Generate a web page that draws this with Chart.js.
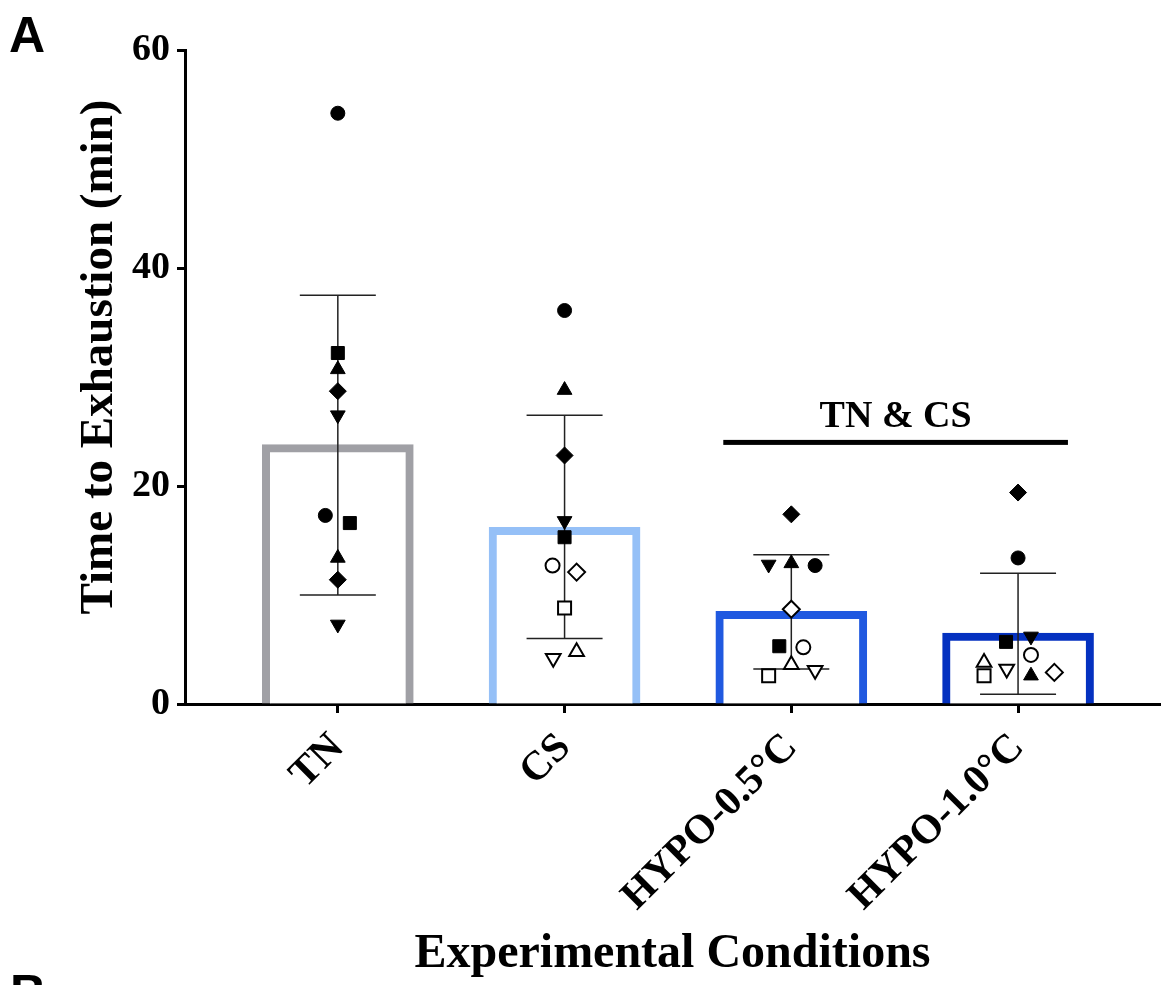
<!DOCTYPE html>
<html>
<head>
<meta charset="utf-8">
<script src="https://cdn.jsdelivr.net/npm/chart.js@4/dist/chart.umd.min.js"></script>
<style>
  body { margin: 0; background: #fff; }
  canvas { display: block; }
</style>
</head>
<body>
<canvas id="chart" width="1163" height="985"></canvas>
<script>
// group names and summary stats (mean, SD ends)
const categories = ['TN', 'CS', 'HYPO-0.5\u00B0C', 'HYPO-1.0\u00B0C']
const means = [23.8, 16.2, 8.5, 6.5]
const sdHigh = [37.5, 26.5, 13.7, 12.0]
const sdLow = [10.0, 6.0, 3.2, 0.9]
const barColors = ['#a0a0a5', '#95c0f7', '#2059e0', '#0431c0']
const yTicks = [0, 20, 40, 60]

// individual subjects per group: value, marker, sideways jitter (in category units)
const tnValues = [54.2, 32.2, 30.7, 28.7, 26.5, 17.3, 16.6, 13.4, 11.4, 7.3]
const tnMarkers = ['circle', 'square', 'triangle', 'diamond', 'down', 'circle', 'square', 'triangle', 'diamond', 'down']
const tnJitter = [0, 0, 0, 0, 0, -0.055, 0.053, 0, 0, 0]

const csValues = [36.1, 28.8, 22.8, 16.8, 15.3, 12.7, 12.1, 8.8, 4.2, 4.8]
const csMarkers = ['circle', 'triangle', 'diamond', 'down', 'square', 'oCircle', 'oDiamond', 'oSquare', 'oDown', 'oTriangle']
const csJitter = [0, 0, 0, 0, 0, -0.053, 0.053, 0, -0.05, 0.053]

const h05Values = [17.4, 12.8, 12.9, 12.7, 8.7, 5.3, 5.2, 3.6, 2.6, 3.1]
const h05Markers = ['diamond', 'down', 'triangle', 'circle', 'oDiamond', 'square', 'oCircle', 'oTriangle', 'oSquare', 'oDown']
const h05Jitter = [0, -0.1, 0, 0.105, 0, -0.053, 0.053, 0, -0.1, 0.105]

const h10Values = [19.4, 13.4, 5.7, 6.2, 4.5, 3.8, 2.6, 3.2, 2.6, 2.9]
const h10Markers = ['diamond', 'circle', 'square', 'down', 'oCircle', 'oTriangle', 'oSquare', 'oDown', 'triangle', 'oDiamond']
const h10Jitter = [0, 0, -0.053, 0.057, 0.057, -0.15, -0.15, -0.05, 0.057, 0.16]

// significance bar over the two hypothermia groups
const sigFrom = 2.70
const sigTo = 4.22
const sigValue = 24.0
const sigLabel = 'TN & CS'

const groups = [
    [tnValues, tnMarkers, tnJitter],
    [csValues, csMarkers, csJitter],
    [h05Values, h05Markers, h05Jitter],
    [h10Values, h10Markers, h10Jitter]
]

var points = []
groups.forEach(function(g, i){
    g[0].forEach(function(v, j){
        points.push({x: i + 1 + g[2][j], y: v, m: g[1][j]})
    })
})

const styleOf = {circle: 'circle', square: 'rect', triangle: 'triangle', diamond: 'rectRot', down: 'triangle'}
const radiusOf = {circle: 7, square: 9.2, triangle: 8.5, diamond: 8.5, down: 8.5}

function baseMarker(m){ return m[0] == 'o' ? m.substr(1).toLowerCase() : m }
function isOpen(m){ return m[0] == 'o' }

const serif = 'Liberation Serif, Times New Roman, serif'

const overlay = {
    id: 'overlay',
    afterDatasetDraw(chart, args){
        if (args.index !== 0) return
        const ctx = chart.ctx, x = chart.scales.x, y = chart.scales.y
        ctx.save()
        ctx.strokeStyle = '#222'
        ctx.lineWidth = 1.5
        means.forEach(function(m, i){
            var px = x.getPixelForValue(i + 1)
            var top = y.getPixelForValue(sdHigh[i]), bot = y.getPixelForValue(sdLow[i])
            ctx.beginPath()
            ctx.moveTo(px, top); ctx.lineTo(px, bot)
            ctx.moveTo(px - 38, top); ctx.lineTo(px + 38, top)
            ctx.moveTo(px - 38, bot); ctx.lineTo(px + 38, bot)
            ctx.stroke()
        })
        ctx.restore()
    },
    afterDraw(chart){
        const ctx = chart.ctx, x = chart.scales.x, y = chart.scales.y
        ctx.save()
        // significance line and label
        var sy = y.getPixelForValue(sigValue)
        var x0 = x.getPixelForValue(sigFrom), x1 = x.getPixelForValue(sigTo)
        ctx.fillStyle = '#000'
        ctx.fillRect(x0, sy - 2.5, x1 - x0, 5)
        ctx.font = 'bold 38px ' + serif
        ctx.textAlign = 'center'
        ctx.textBaseline = 'alphabetic'
        ctx.fillText(sigLabel, (x0 + x1) / 2, sy - 15)

        // y axis title
        ctx.save()
        ctx.translate(100, 357)
        ctx.rotate(-Math.PI / 2)
        ctx.font = 'bold 47px ' + serif
        ctx.textBaseline = 'middle'
        ctx.fillText('Time to Exhaustion (min)', 0, 0)
        ctx.restore()

        // panel letters
        ctx.textAlign = 'left'
        ctx.font = 'bold 50px Liberation Sans, Arial, sans-serif'
        ctx.fillText('A', 9, 52)
        ctx.fillText('B', 10, 1010)
        ctx.restore()
    }
}

var ctx = document.getElementById('chart').getContext('2d')
var chart = new Chart(ctx, {
    type: 'bar',
    data: {
        datasets: [
            {
                type: 'bar',
                data: means.map(function(m, i){ return {x: i + 1, y: m} }),
                backgroundColor: '#ffffff',
                borderColor: barColors,
                borderWidth: 8,
                barThickness: 151,
                order: 1
            },
            {
                type: 'scatter',
                data: points,
                order: 0,
                pointStyle: function(c){ return styleOf[baseMarker(c.raw.m)] },
                pointRotation: function(c){ return baseMarker(c.raw.m) == 'down' ? 180 : 0 },
                pointRadius: function(c){ return radiusOf[baseMarker(c.raw.m)] },
                pointBackgroundColor: function(c){ return isOpen(c.raw.m) ? '#ffffff' : '#000000' },
                pointBorderColor: '#000',
                pointBorderWidth: function(c){ return isOpen(c.raw.m) ? 2 : 1 }
            }
        ]
    },
    options: {
        responsive: false,
        animation: false,
        layout: {autoPadding: false, padding: {left: 0, top: 50, right: 3, bottom: 2}},
        plugins: {legend: {display: false}, tooltip: {enabled: false}},
        scales: {
            x: {
                type: 'linear',
                min: 0.326,
                max: 4.626,
                offset: false,
                afterBuildTicks: function(s){ s.ticks = categories.map(function(c, i){ return {value: i + 1} }) },
                afterFit: function(s){
                    s.height = 985 - 704 - 2
                    s.paddingLeft = 0
                    s.paddingRight = 0
                },
                ticks: {
                    autoSkip: false,
                    minRotation: 45,
                    maxRotation: 45,
                    padding: 11,
                    color: '#000',
                    font: {family: serif, weight: 'bold', size: 41},
                    callback: function(v){ return categories[v - 1] }
                },
                grid: {offset: false, drawOnChartArea: false, tickLength: 9, tickWidth: 3, tickColor: '#000'},
                border: {color: '#000', width: 3},
                title: {
                    display: true,
                    text: 'Experimental Conditions',
                    color: '#000',
                    font: {family: serif, weight: 'bold', size: 48},
                    padding: {top: 0, bottom: 0}
                }
            },
            y: {
                min: 0,
                max: 60,
                afterBuildTicks: function(s){ s.ticks = yTicks.map(function(v){ return {value: v} }) },
                afterFit: function(s){ s.width = 185 },
                ticks: {
                    padding: 7,
                    color: '#000',
                    font: {family: serif, weight: 'bold', size: 38}
                },
                grid: {drawOnChartArea: false, tickLength: 8, tickWidth: 3, tickColor: '#000'},
                border: {color: '#000', width: 3}
            }
        }
    },
    plugins: [overlay]
})
</script>
</body>
</html>
